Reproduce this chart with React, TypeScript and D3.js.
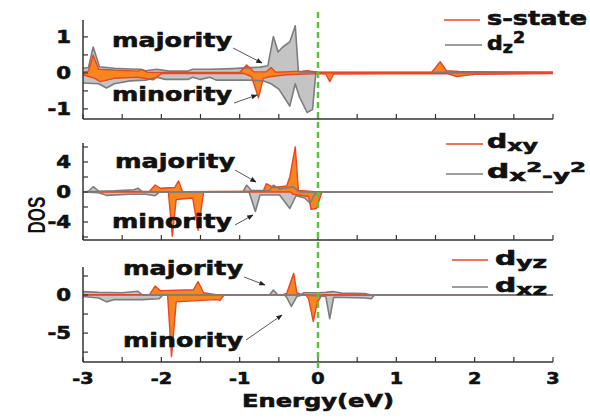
import * as React from "react"
import * as d3 from "d3"

type Pt = [number, number]

// energy axis
const energyTicks = [-3, -2, -1, 0, 1, 2, 3]
const energyMinor = [-3, -2.5, -2, -1.5, -1, -0.5, 0, 0.5, 1, 1.5, 2, 2.5, 3]

// panel 1: s-state (orange) and dz2 (grey), majority up / minority down
const sUp: Pt[] = [
  [-3, 0.02], [-2.93, 0.05], [-2.87, 0.49], [-2.8, 0.1], [-2.5, 0.07], [-2.3, 0.05],
  [-2.25, 0.1], [-2.18, 0.02], [-1.0, 0.01], [-0.91, 0.22], [-0.82, 0.03], [-0.66, 0.03],
  [-0.6, 0.15], [-0.54, 0.02], [-0.2, 0.05], [-0.14, 0.06], [0, 0.02], [1.45, 0.01],
  [1.56, 0.31], [1.64, 0.06], [1.8, 0.04], [2.2, 0.03], [3, 0.02],
]
const sDown: Pt[] = [
  [-3, -0.05], [-2.85, -0.15], [-2.78, -0.24], [-2.6, -0.15], [-2.3, -0.12], [-2.1, -0.19],
  [-2.0, -0.02], [-0.95, -0.01], [-0.85, -0.1], [-0.76, -0.69], [-0.7, -0.15], [-0.6, -0.1],
  [-0.4, -0.05], [0, -0.02], [0.1, -0.03], [0.15, -0.24], [0.2, -0.03], [1.65, -0.02],
  [1.77, -0.1], [2.0, -0.04], [3, -0.02],
]
const dz2Up: Pt[] = [
  [-3, 0.13], [-2.93, 0.15], [-2.87, 0.72], [-2.79, 0.17], [-2.6, 0.13], [-2.4, 0.11],
  [-2.27, 0.1], [-2.2, 0.06], [-2.06, 0.1], [-1.9, 0.05], [-1.66, 0.05], [-1.6, 0.1],
  [-1.38, 0.1], [-1.1, 0.12], [-0.91, 0.14], [-0.74, 0.16], [-0.64, 0.2], [-0.57, 1.01],
  [-0.51, 0.58], [-0.45, 0.72], [-0.36, 0.86], [-0.29, 1.31], [-0.25, 0.03], [0, 0.02], [3, 0.02],
]
const dz2Down: Pt[] = [
  [-3, -0.28], [-2.8, -0.3], [-2.7, -0.42], [-2.6, -0.3], [-2.4, -0.22], [-2.2, -0.2],
  [-2.06, -0.12], [-1.95, -0.18], [-1.66, -0.18], [-1.6, -0.12], [-1.5, -0.18], [-1.38, -0.12],
  [-1.3, -0.2], [-0.9, -0.2], [-0.7, -0.22], [-0.6, -0.3], [-0.5, -0.45], [-0.36, -0.92],
  [-0.29, -0.3], [-0.24, -0.65], [-0.14, -1.1], [-0.07, -1.02], [-0.03, -0.05], [0, 0], [3, 0],
]

// panel 2: dxy (orange) and dx2-y2 (grey)
const dxyUp: Pt[] = [
  [-3, 0.05], [-2.15, 0.1], [-2.08, 0.93], [-2.01, 0.5], [-1.83, 0.6], [-1.78, 1.47],
  [-1.73, 0.05], [-0.7, 0.1], [-0.66, 1.1], [-0.57, 0.6], [-0.4, 0.8], [-0.36, 2],
  [-0.29, 6.0], [-0.25, 0.2], [0, 0], [3, 0],
]
const dxyDown: Pt[] = [
  [-3, 0], [-1.91, 0], [-1.86, -5.9], [-1.81, -1.0], [-1.6, -0.8], [-1.53, -5.1],
  [-1.46, 0], [-0.35, 0], [-0.32, -0.3], [-0.12, -0.6], [-0.09, -2.3], [-0.02, -2.2],
  [0.05, 0], [3, 0],
]
const dx2y2Up: Pt[] = [
  [-3, 0], [-2.93, 0.1], [-2.87, 0.7], [-2.8, 0.1], [-2.6, 0.15], [-2.35, 0.3], [-2.3, 0.5],
  [-2.24, 0], [-0.96, 0], [-0.91, 0.9], [-0.85, 0.2], [-0.62, 0.2], [-0.57, 0.9],
  [-0.49, 0.4], [-0.32, 0.7], [-0.24, 0], [3, 0],
]
const dx2y2Down: Pt[] = [
  [-3, 0], [-2.8, -0.1], [-2.7, -0.45], [-2.4, -0.3], [-2.2, -0.3], [-2.08, -0.5],
  [-2.02, 0], [-0.88, 0], [-0.8, -2.6], [-0.74, -0.4], [-0.49, -0.4], [-0.36, -2.2],
  [-0.28, -0.5], [-0.17, -0.8], [-0.1, -1.5], [-0.04, -0.3], [0, 0], [3, 0],
]

// panel 3: dyz (orange) and dxz (grey)
const dyzUp: Pt[] = [
  [-3, 0.05], [-2.15, 0.05], [-2.08, 1.18], [-2.01, 0.57], [-1.59, 0.7], [-1.53, 1.75],
  [-1.46, 0.3], [-1.3, 0.05], [-0.45, 0.05], [-0.4, 0.2], [-0.31, 2.85], [-0.27, 0.3],
  [-0.2, 0], [3, 0],
]
const dyzDown: Pt[] = [
  [-3, 0], [-1.92, 0], [-1.87, -8.1], [-1.81, -0.9], [-1.3, -0.6], [-1.25, -0.7],
  [-1.2, 0], [-0.15, 0], [-0.12, -0.5], [-0.06, -3.5], [-0.01, -1.0], [0.05, 0], [3, 0],
]
const dxzUp: Pt[] = [
  [-3, 0.45], [-2.8, 0.35], [-2.5, 0.3], [-2.3, 0.5], [-2.24, 0], [-0.62, 0], [-0.57, 0.65],
  [-0.51, 0], [-0.22, 0], [-0.18, 0.3], [0, 0.3], [0.1, 0.35], [0.19, 0.45], [0.3, 0.25],
  [0.6, 0.2], [0.68, 0], [3, 0],
]
const dxzDown: Pt[] = [
  [-3, -0.2], [-2.8, -0.4], [-2.7, -0.9], [-2.6, -0.6], [-2.25, -0.6], [-2.03, -0.5],
  [-1.98, 0], [-0.43, 0], [-0.4, -0.3], [-0.34, -1.5], [-0.27, -0.2], [-0.2, 0],
  [0.1, -0.2], [0.15, -3.1], [0.2, -0.3], [0.6, -0.4], [0.68, -0.5], [0.72, 0], [3, 0],
]

// y ticks per panel
const p1Major = [-1, 0, 1]
const p1Minor = [-1, -0.5, 0, 0.5, 1]
const p2Major = [-4, 0, 4]
const p2Minor = [-6, -4, -2, 0, 2, 4, 6]
const p3Major = [-5, 0]
const p3Minor = [-7.5, -5, -2.5, 0, 2.5]

const ORANGE_FILL = "#f7861f"
const ORANGE_LINE = "#ec4526"
const GREY_FILL = "#c4c4c4"
const GREY_LINE = "#7d7d7d"
const GREEN = "#5cc43a"
const AXIS = "#333"
const FONT = "DejaVu Sans"
const INK = "#111"

const x = d3.scaleLinear().domain([-3, 3]).range([83, 553])

type Panel = {
  top: number
  bottom: number
  domain: [number, number]
  major: number[]
  minor: number[]
  orange: Pt[][]
  grey: Pt[][]
  orangeOnTop: boolean
  labels: { text: string; y: number; tx: number; ax: number; ay: number; bx: number; by: number }[]
}

const panels: Panel[] = [
  {
    top: 20, bottom: 119, domain: [-1.28, 1.47], major: p1Major, minor: p1Minor,
    orange: [sUp, sDown], grey: [dz2Up, dz2Down], orangeOnTop: true,
    labels: [
      { text: "majority", y: 47, tx: 112, ax: 233, ay: 48, bx: 262, by: 63 },
      { text: "minority", y: 101, tx: 112, ax: 234, ay: 103, bx: 257, by: 95 },
    ],
  },
  {
    top: 143, bottom: 240, domain: [-6.4, 6.53], major: p2Major, minor: p2Minor,
    orange: [dxyUp, dxyDown], grey: [dx2y2Up, dx2y2Down], orangeOnTop: false,
    labels: [
      { text: "majority", y: 168, tx: 115, ax: 235, ay: 170, bx: 256, by: 182 },
      { text: "minority", y: 228, tx: 112, ax: 235, ay: 225, bx: 253, by: 215 },
    ],
  },
  {
    top: 267, bottom: 362, domain: [-8.8, 3.68], major: p3Major, minor: p3Minor,
    orange: [dyzUp, dyzDown], grey: [dxzUp, dxzDown], orangeOnTop: false,
    labels: [
      { text: "majority", y: 275, tx: 123, ax: 244, ay: 277, bx: 265, by: 285 },
      { text: "minority", y: 347, tx: 123, ax: 246, ay: 340, bx: 282, by: 315 },
    ],
  },
]

const heavy = { fontFamily: FONT, fontWeight: "bold" as const, fill: INK, stroke: INK, strokeWidth: 0.6 }

function PanelView({ p, last }: { p: Panel; last: boolean }) {
  const y = d3.scaleLinear().domain(p.domain).range([p.bottom, p.top])
  const area = d3.area<Pt>().x((d) => x(d[0])).y0(y(0)).y1((d) => y(d[1]))
  const line = d3.line<Pt>().x((d) => x(d[0])).y((d) => y(d[1]))

  const orangeLines = p.orange.map((s, i) => (
    <path key={"ol" + i} d={line(s) || ""} fill="none" stroke={ORANGE_LINE} strokeWidth={1.4} strokeLinejoin="round" />
  ))
  const greyLines = p.grey.map((s, i) => (
    <path key={"gl" + i} d={line(s) || ""} fill="none" stroke={GREY_LINE} strokeWidth={1.6} strokeLinejoin="round" />
  ))

  return (
    <g>
      {p.grey.map((s, i) => (
        <path key={"gf" + i} d={area(s) || ""} fill={GREY_FILL} />
      ))}
      {p.orange.map((s, i) => (
        <path key={"of" + i} d={area(s) || ""} fill={ORANGE_FILL} />
      ))}
      {p.orangeOnTop ? greyLines : orangeLines}
      {p.orangeOnTop ? orangeLines : greyLines}

      {/* axes */}
      <line x1={x(-3)} x2={x(-3)} y1={p.top} y2={p.bottom} stroke={AXIS} strokeWidth={1.5} />
      <line x1={x(-3)} x2={x(3)} y1={p.bottom} y2={p.bottom} stroke={AXIS} strokeWidth={1.5} />
      {p.minor.map((t) => (
        <line key={"yt" + t} x1={x(-3)} x2={x(-3) + 5} y1={y(t)} y2={y(t)} stroke={AXIS} strokeWidth={1.2} />
      ))}
      {energyMinor.map((t) => (
        <line key={"xt" + t} x1={x(t)} x2={x(t)} y1={p.bottom} y2={p.bottom - 5} stroke={AXIS} strokeWidth={1.2} />
      ))}
      {p.major.map((t) => (
        <text key={"yl" + t} transform={`translate(71,${y(t)}) scale(1.25,1)`} dy="0.36em" textAnchor="end"
          fontSize={17} {...heavy}>
          {t < 0 ? "-" + Math.abs(t) : String(t)}
        </text>
      ))}
      {last &&
        energyTicks.map((t) => (
          <text key={"xl" + t} transform={`translate(${x(t)},384) scale(1.2,1)`} textAnchor="middle"
            fontSize={16} {...heavy}>
            {t < 0 ? "-" + Math.abs(t) : String(t)}
          </text>
        ))}

      {p.labels.map((l) => (
        <g key={l.text}>
          <text x={l.tx} y={l.y} fontSize={20} {...heavy} textLength={120} lengthAdjust="spacingAndGlyphs">
            {l.text}
          </text>
          <line x1={l.ax} y1={l.ay} x2={l.bx} y2={l.by} stroke="#444" strokeWidth={0.9} markerEnd="url(#arrow)" />
        </g>
      ))}
    </g>
  )
}

function LegendLine({ y, color, x1, x2 }: { y: number; color: string; x1: number; x2: number }) {
  return <line x1={x1} x2={x2} y1={y} y2={y} stroke={color} strokeWidth={1.6} />
}

export default function App() {
  return (
    <svg width={590} height={420} viewBox="0 0 590 420"
      style={{ position: "absolute", left: 0, top: 0, background: "#fff" }}>
      <defs>
        <marker id="arrow" viewBox="0 0 10 10" refX="9" refY="5" markerWidth="7" markerHeight="7" orient="auto-start-reverse">
          <path d="M0,1 L10,5 L0,9 z" fill="#222" />
        </marker>
      </defs>

      {panels.map((p, i) => (
        <PanelView key={i} p={p} last={i === panels.length - 1} />
      ))}

      {/* Fermi level */}
      <line x1={x(0)} x2={x(0)} y1={12} y2={368} stroke={GREEN} strokeWidth={2.5} strokeDasharray="6,4" />

      {/* legends */}
      <LegendLine y={20} color={ORANGE_LINE} x1={444} x2={480} />
      <text x={487} y={25} fontSize={19} {...heavy} textLength={100} lengthAdjust="spacingAndGlyphs">s-state</text>
      <LegendLine y={45} color={GREY_LINE} x1={445} x2={482} />
      <text x={487} y={50} fontSize={19} {...heavy} textLength={38} lengthAdjust="spacingAndGlyphs">
        d<tspan fontSize={15} dy={3}>z</tspan><tspan fontSize={15} dy={-10}>2</tspan>
      </text>

      <LegendLine y={144} color={ORANGE_LINE} x1={446} x2={483} />
      <text x={487} y={148} fontSize={19} {...heavy} textLength={51} lengthAdjust="spacingAndGlyphs">
        d<tspan fontSize={16} dy={3}>xy</tspan>
      </text>
      <LegendLine y={174} color={GREY_LINE} x1={446} x2={483} />
      <text x={487} y={178} fontSize={19} {...heavy} textLength={99} lengthAdjust="spacingAndGlyphs">
        d<tspan fontSize={16} dy={3}>x</tspan><tspan fontSize={14} dy={-9}>2</tspan>
        <tspan fontSize={16} dy={9}>-y</tspan><tspan fontSize={14} dy={-9}>2</tspan>
      </text>

      <LegendLine y={260} color={ORANGE_LINE} x1={452} x2={488} />
      <text x={495} y={265} fontSize={19} {...heavy} textLength={52} lengthAdjust="spacingAndGlyphs">
        d<tspan fontSize={16} dy={3}>yz</tspan>
      </text>
      <LegendLine y={287} color={GREY_LINE} x1={452} x2={488} />
      <text x={495} y={292} fontSize={19} {...heavy} textLength={52} lengthAdjust="spacingAndGlyphs">
        d<tspan fontSize={16} dy={3}>xz</tspan>
      </text>

      {/* axis titles */}
      <text transform="translate(45,215) rotate(-90)" textAnchor="middle" fontFamily="Liberation Sans"
        fontWeight="bold" fontSize={24} fill={INK} textLength={37} lengthAdjust="spacingAndGlyphs">
        DOS
      </text>
      <text x={318} y={407} textAnchor="middle" fontSize={18} {...heavy} textLength={152} lengthAdjust="spacingAndGlyphs">
        Energy(eV)
      </text>
    </svg>
  )
}
